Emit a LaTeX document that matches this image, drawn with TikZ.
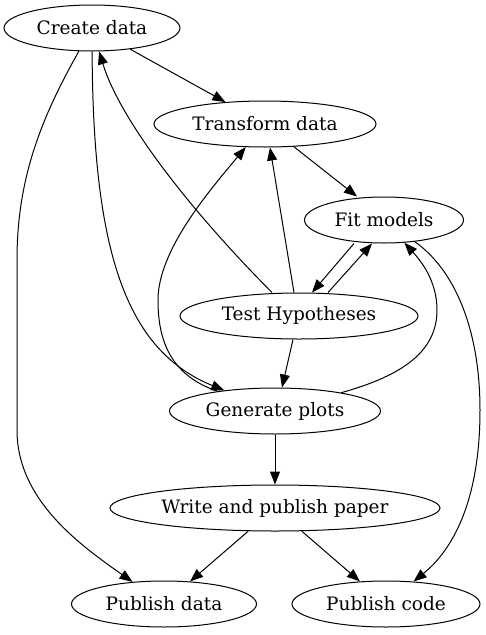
\documentclass[tikz,border=0pt]{standalone}
\usepackage{fontspec}
\setmainfont{DejaVu Serif}
\usetikzlibrary{shapes.geometric,arrows.meta}
\begin{document}
\begin{tikzpicture}[x=1pt,y=-1pt,
  task/.style={draw,ellipse,line width=1pt,minimum height=46pt,inner sep=0pt,font=\fontsize{18.5}{22}\selectfont},
  flow/.style={-{Triangle[length=13pt,width=10pt]},line width=1pt}]
\useasboundingbox (0,0) rectangle (486,635);
\node[task,minimum width=176pt] (CD) at (92,28) {Create data};
\node[task,minimum width=222pt] (TD) at (265,124) {Transform data};
\node[task,minimum width=159pt] (FM) at (384,220) {Fit models};
\node[task,minimum width=238pt] (TH) at (299,316) {Test Hypotheses};
\node[task,minimum width=211pt] (GP) at (275,411) {Generate plots};
\node[task,minimum width=330pt] (WP) at (275,508) {Write and publish paper};
\node[task,minimum width=185pt] (PD) at (164,604) {Publish data};
\node[task,minimum width=188pt] (PC) at (386,604) {Publish code};
% from create data
\draw[flow] (CD) -- (TD);
\draw[flow] (CD) .. controls (40,120) and (17,180) .. (17,260) -- (17,430)
  .. controls (17,500) and (80,545) .. (PD);
\draw[flow] (CD) .. controls (93,250) and (125,350) .. (GP);
% the analysis loop
\draw[flow] (TD) -- ([xshift=-27pt]FM.north);
\draw[flow] ([xshift=-30pt]FM.south) -- ([xshift=13pt]TH.north);
\draw[flow] ([xshift=29pt]TH.north) -- ([xshift=-12pt]FM.south);
\draw[flow] ([xshift=-5pt]TH.north) -- ([xshift=5pt]TD.south);
\draw[flow] ([xshift=-27pt]TH.north) .. controls (190,210) and (120,120) .. (CD);
\draw[flow] ([xshift=-6pt]TH.south) -- ([xshift=7pt]GP.north);
% from generate plots
\draw[flow] (GP) .. controls (170,375) and (158,340) .. (158,300)
  .. controls (158,250) and (210,190) .. (TD);
\draw[flow] (GP) .. controls (405,375) and (437,350) .. (437,310)
  .. controls (437,280) and (420,260) .. (FM);
\draw[flow] (FM) .. controls (455,270) and (480,330) .. (480,410)
  .. controls (480,520) and (440,560) .. (PC);
% publishing
\draw[flow] (GP) -- (WP);
\draw[flow] (WP) -- (PD);
\draw[flow] (WP) -- (PC);
\end{tikzpicture}
\end{document}
